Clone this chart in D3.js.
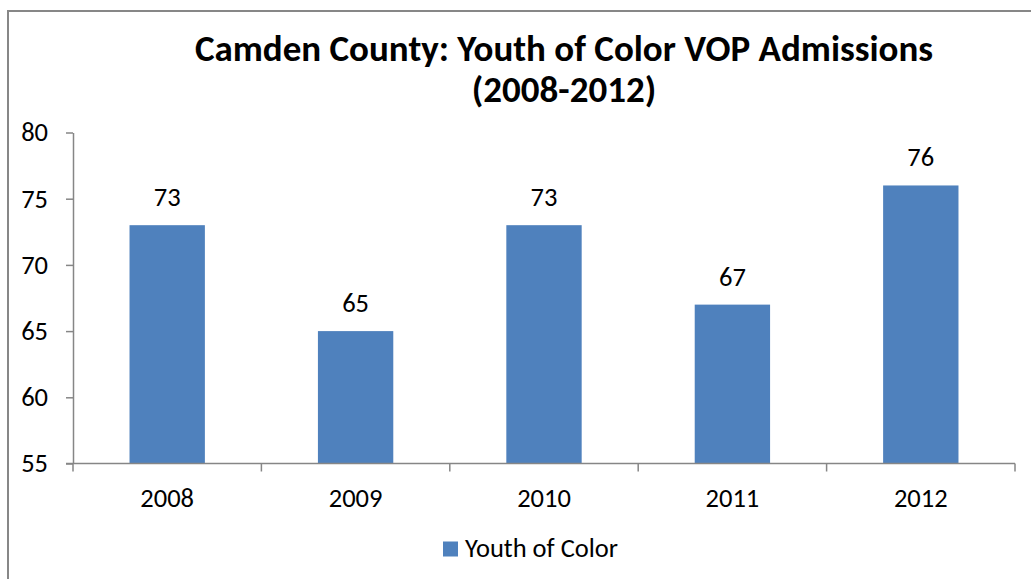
<!DOCTYPE html>
<html>
<head>
<meta charset="utf-8">
<script src="https://cdn.jsdelivr.net/npm/d3@7"></script>
<style>
  html, body { margin: 0; padding: 0; background: #fff; }
  svg { display: block; }
  text { font-family: Carlito, Lato, "Open Sans", sans-serif; fill: #000; }
</style>
</head>
<body>
<svg id="chart" width="1031" height="579"></svg>
<script>
// Chart data
const years = ["2008", "2009", "2010", "2011", "2012"];
const admissions = [73, 65, 73, 67, 76];
const yTicks = [55, 60, 65, 70, 75, 80];
const titleLines = ["Camden County: Youth of Color VOP Admissions", "(2008-2012)"];
const seriesName = "Youth of Color";

const svg = d3.select("#chart");
const W = 1031, H = 579;
const barColor = "#4F81BD";
const axisColor = "#868686";
const fontFamily = "Carlito, Lato, 'Open Sans', sans-serif";
const labelSize = 26.5;

// Outer frame (runs off the right and bottom edges)
svg.append("rect")
  .attr("x", 8).attr("y", 11)
  .attr("width", W + 20).attr("height", H + 20)
  .attr("fill", "none").attr("stroke", "#878787").attr("stroke-width", 2);

const plot = { left: 73, right: 1015, top: 132.5, bottom: 463.5 };

const x = d3.scaleBand().domain(years)
  .range([plot.left, plot.right])
  .paddingInner(0.6).paddingOuter(0.3);

const y = d3.scaleLinear().domain([55, 80]).range([plot.bottom, plot.top]);

// Title
const title = svg.append("text")
  .attr("text-anchor", "middle")
  .attr("font-weight", "bold")
  .attr("font-size", 37);
titleLines.forEach((t, i) => {
  title.append("tspan").attr("x", 564).attr("y", 61 + i * 41).text(t);
});

const rows = years.map((yr, i) => ({ yr, v: admissions[i] }));

// Bars
svg.append("g").selectAll("rect")
  .data(rows)
  .join("rect")
  .attr("x", d => x(d.yr))
  .attr("width", x.bandwidth())
  .attr("y", d => y(d.v))
  .attr("height", d => y(55) - y(d.v))
  .attr("fill", barColor);

// Value labels
svg.append("g").selectAll("text")
  .data(rows)
  .join("text")
  .attr("x", d => x(d.yr) + x.bandwidth() / 2)
  .attr("y", d => y(d.v) - 19)
  .attr("text-anchor", "middle")
  .attr("font-size", labelSize)
  .text(d => d.v);

// Y axis
const yAxis = svg.append("g")
  .attr("transform", `translate(${plot.left},0)`)
  .call(d3.axisLeft(y).tickValues(yTicks).tickSize(7).tickSizeOuter(0).tickPadding(18));
yAxis.select(".domain").attr("stroke", axisColor).attr("stroke-width", 1.5);
yAxis.selectAll(".tick line").attr("stroke", axisColor).attr("stroke-width", 1.5);
yAxis.selectAll(".tick text")
  .attr("font-size", labelSize).attr("fill", "#000")
  .attr("font-family", fontFamily);

// X axis: ticks sit at category boundaries
const xAxis = svg.append("g")
  .attr("transform", `translate(0,${plot.bottom})`);
xAxis.append("line")
  .attr("x1", plot.left - 7).attr("x2", plot.right)
  .attr("stroke", axisColor).attr("stroke-width", 1.5);
const bounds = d3.range(years.length + 1).map(i => plot.left + i * (plot.right - plot.left) / years.length);
xAxis.selectAll("line.bound")
  .data(bounds)
  .join("line")
  .attr("class", "bound")
  .attr("x1", d => d).attr("x2", d => d)
  .attr("y1", 0).attr("y2", 8)
  .attr("stroke", axisColor).attr("stroke-width", 1.5);
xAxis.selectAll("text")
  .data(years)
  .join("text")
  .attr("x", d => x(d) + x.bandwidth() / 2)
  .attr("y", 43.5)
  .attr("text-anchor", "middle")
  .attr("font-size", labelSize)
  .text(d => d);

// Legend
const legend = svg.append("g").attr("transform", "translate(443,541.5)");
legend.append("rect").attr("width", 15).attr("height", 15).attr("fill", barColor);
legend.append("text").attr("x", 22).attr("y", 15).attr("font-size", labelSize).text(seriesName);
</script>
</body>
</html>
